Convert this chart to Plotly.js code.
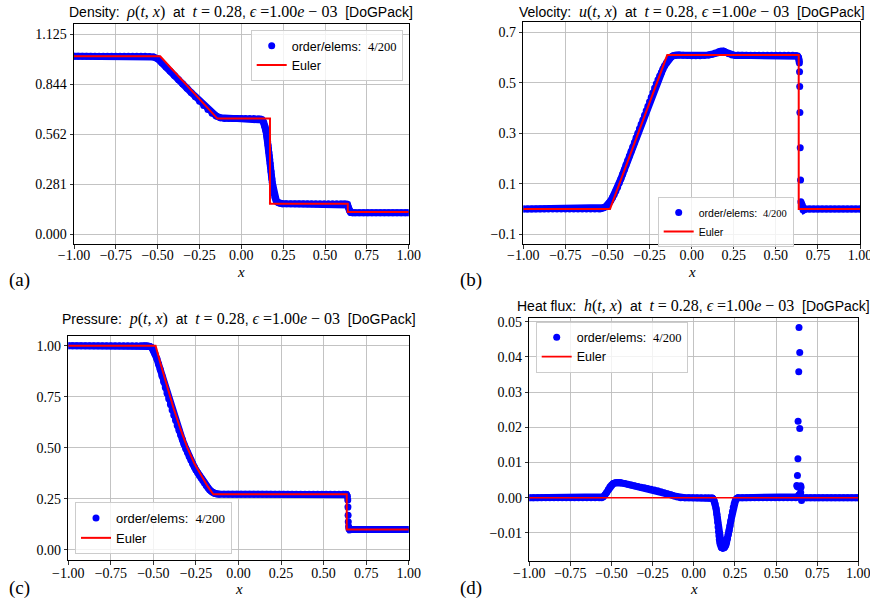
<!DOCTYPE html>
<html>
<head>
<meta charset="utf-8">
<script src="https://cdn.plot.ly/plotly-3.0.1.min.js"></script>
<style>html,body{margin:0;padding:0;background:#fff;}#chart{width:870px;height:613px;}</style>
</head>
<body>
<div id="chart"></div>
<script>
// ---------------- data ----------------
const xTickVals = [-1, -0.75, -0.5, -0.25, 0, 0.25, 0.5, 0.75, 1];
const xTickText = ['−1.00', '−0.75', '−0.50', '−0.25', '0.00', '0.25', '0.50', '0.75', '1.00'];

const densTickVals = [0, 0.281, 0.562, 0.844, 1.125];
const densTickText = ['0.000', '0.281', '0.562', '0.844', '1.125'];
const velTickVals = [-0.1, 0.1, 0.3, 0.5, 0.7];
const velTickText = ['−0.1', '0.1', '0.3', '0.5', '0.7'];
const presTickVals = [0, 0.25, 0.5, 0.75, 1];
const presTickText = ['0.00', '0.25', '0.50', '0.75', '1.00'];
const heatTickVals = [-0.01, 0, 0.01, 0.02, 0.03, 0.04, 0.05];
const heatTickText = ['−0.01', '0.00', '0.01', '0.02', '0.03', '0.04', '0.05'];

// Density (DG solution)
const densX = [-1.000,-0.975,-0.950,-0.925,-0.900,-0.875,-0.850,-0.825,-0.800,-0.775,-0.750,-0.725,-0.700,-0.675,-0.650,-0.625,-0.600,-0.575,-0.550,
  -0.525,-0.500,-0.475,-0.450,-0.425,-0.400,-0.375,-0.350,-0.325,-0.300,-0.275,-0.250,-0.225,-0.200,-0.175,-0.150,-0.125,-0.100,
  -0.075,-0.050,-0.025,0.000,0.025,0.050,0.075,0.100,
  0.115,0.125,0.130,0.135,0.140,0.1425,0.145,0.1475,0.150,0.1525,0.155,0.1575,0.160,0.1625,0.165,0.1675,0.170,0.1725,0.175,0.1775,0.180,0.1825,0.185,0.1875,0.190,0.195,0.200,0.205,0.210,0.220,0.230,0.245,
  0.270,0.295,0.320,0.345,0.370,0.395,0.420,0.445,0.470,0.495,0.520,0.545,0.570,0.595,
  0.615,0.630,0.635,0.640,0.645,0.650,0.655,0.665,
  0.680,0.705,0.730,0.755,0.780,0.805,0.830,0.855,0.880,0.905,0.930,0.955,0.980,1.000];
const densY = [1.0,1.0,1.0,1.0,1.0,1.0,1.0,1.0,1.0,1.0,1.0,1.0,1.0,1.0,1.0,1.0,1.0,1.0,0.999,
  0.996,0.986,0.964,0.940,0.916,0.892,0.868,0.844,0.820,0.796,0.772,0.748,0.724,0.701,0.680,0.664,0.655,0.651,
  0.650,0.650,0.650,0.650,0.650,0.650,0.650,0.649,
  0.647,0.642,0.635,0.625,0.610,0.601,0.590,0.578,0.565,0.550,0.535,0.518,0.500,0.480,0.460,0.440,0.420,0.398,0.375,0.352,0.330,0.310,0.290,0.272,0.255,0.228,0.208,0.195,0.186,0.178,0.174,0.172,
  0.171,0.171,0.171,0.171,0.171,0.171,0.171,0.171,0.171,0.171,0.171,0.171,0.171,0.171,
  0.171,0.170,0.165,0.150,0.135,0.126,0.122,0.121,
  0.121,0.121,0.121,0.121,0.121,0.121,0.121,0.121,0.121,0.121,0.121,0.121,0.121,0.121];
const densDotsX = [];
const densDotsY = [];
// Density (Euler)
const densEulerX = [-1, -0.485, -0.143, 0.171, 0.171, 0.636, 0.636, 1];
const densEulerY = [1.0, 1.0, 0.650, 0.650, 0.172, 0.172, 0.125, 0.125];

// Velocity (DG solution): smooth parts (null = break at the shock) and isolated shock points
const velX = [-1.000,-0.975,-0.950,-0.925,-0.900,-0.875,-0.850,-0.825,-0.800,-0.775,-0.750,-0.725,-0.700,-0.675,-0.650,-0.625,-0.600,-0.575,-0.550,
  -0.54,-0.53,-0.52,-0.51,-0.50,-0.49,-0.48,-0.47,-0.46,-0.45,-0.44,-0.43,-0.42,-0.41,-0.40,-0.39,-0.38,-0.37,-0.36,-0.35,-0.34,-0.33,-0.32,-0.31,-0.30,-0.29,-0.28,-0.27,-0.26,-0.25,-0.24,-0.23,-0.22,-0.21,-0.20,-0.19,-0.18,-0.17,-0.16,-0.15,-0.14,-0.13,-0.12,-0.11,-0.10,-0.09,
  -0.075,-0.050,-0.025,0.000,0.025,0.050,0.075,0.100,0.120,0.140,0.160,0.170,0.180,0.190,0.200,0.220,0.240,0.260,0.275,
  0.300,0.325,0.350,0.375,0.400,0.425,0.450,0.475,0.500,0.525,0.550,0.575,0.600,
  0.620,0.630,0.635,0.638,0.640,null,0.652,0.655,0.658,0.662,0.668,0.675,
  0.700,0.725,0.750,0.775,0.800,0.825,0.850,0.875,0.900,0.925,0.950,0.975,1.000];
const velY = [0,0,0,0,0,0,0,0,0,0,0,0,0,0,0,0,0,0,0,
  0.001,0.003,0.006,0.010,0.016,0.024,0.034,0.046,0.058,0.071,0.086,0.103,0.120,0.138,0.156,0.174,0.192,0.210,0.228,0.246,0.264,0.282,0.300,0.318,0.336,0.353,0.371,0.389,0.407,0.425,0.443,0.461,0.479,0.496,0.512,0.527,0.541,0.555,0.568,0.579,0.589,0.597,0.603,0.607,0.609,0.610,
  0.610,0.609,0.608,0.607,0.607,0.607,0.608,0.610,0.613,0.618,0.623,0.625,0.626,0.625,0.622,0.615,0.610,0.608,0.609,
  0.609,0.609,0.609,0.609,0.609,0.609,0.609,0.609,0.609,0.609,0.609,0.609,0.609,
  0.608,0.605,0.600,0.590,0.578,null,0.022,0.018,0.006,-0.004,-0.003,0.000,
  0,0,0,0,0,0,0,0,0,0,0,0,0];
const velDotsX = [0.641, 0.642, 0.643, 0.645, 0.647, 0.649];
const velDotsY = [0.544, 0.485, 0.382, 0.243, 0.115, 0.029];
// Velocity (Euler)
const velEulerX = [-1, -0.485, -0.145, 0.636, 0.636, 1];
const velEulerY = [0, 0, 0.610, 0.610, 0, 0];

// Pressure (DG solution)
const presX = [-1.000,-0.975,-0.950,-0.925,-0.900,-0.875,-0.850,-0.825,-0.800,-0.775,-0.750,-0.725,-0.700,-0.675,-0.650,-0.625,-0.600,-0.575,
  -0.56,-0.55,-0.54,-0.53,-0.52,-0.51,-0.50,-0.49,-0.48,-0.47,-0.46,-0.45,-0.44,-0.43,-0.42,-0.41,-0.40,-0.39,-0.38,-0.37,-0.36,-0.35,-0.34,-0.33,-0.32,-0.31,-0.30,-0.29,-0.28,-0.27,-0.26,-0.25,-0.24,-0.23,-0.22,-0.21,-0.20,-0.19,-0.18,-0.17,-0.16,-0.15,-0.14,-0.13,-0.12,-0.11,
  -0.085,-0.060,-0.035,-0.010,0.015,0.040,0.065,0.090,0.115,0.140,0.165,0.190,0.215,0.240,0.265,0.290,0.315,0.340,0.365,0.390,0.415,0.440,0.465,0.490,0.515,0.540,0.565,0.590,0.615,
  0.630,0.635,0.640,null,0.647,0.650,0.655,0.665,
  0.680,0.705,0.730,0.755,0.780,0.805,0.830,0.855,0.880,0.905,0.930,0.955,0.980,1.000];
const presY = [1,1,1,1,1,1,1,1,1,1,1,1,1,1,1,1,1,1,
  1.0,1.0,0.9995,0.998,0.996,0.991,0.978,0.960,0.937,0.911,0.883,0.853,0.824,0.795,0.767,0.740,0.712,0.685,0.660,0.635,0.610,0.586,0.563,0.541,0.518,0.496,0.477,0.458,0.440,0.423,0.407,0.392,0.378,0.365,0.352,0.340,0.328,0.316,0.305,0.295,0.287,0.281,0.277,0.275,0.274,0.273,
  0.273,0.273,0.273,0.273,0.273,0.273,0.273,0.273,0.273,0.273,0.273,0.273,0.273,0.273,0.273,0.273,0.273,0.273,0.273,0.273,0.273,0.273,0.273,0.273,0.273,0.273,0.273,0.273,0.273,
  0.273,0.271,0.262,null,0.115,0.102,0.099,0.100,
  0.100,0.100,0.100,0.100,0.100,0.100,0.100,0.100,0.100,0.100,0.100,0.100,0.100,0.100];
const presDotsX = [0.642, 0.643, 0.644, 0.645];
const presDotsY = [0.245, 0.210, 0.170, 0.138];
// Pressure (Euler)
const presEulerX = [-1, -0.487, -0.46, -0.42, -0.38, -0.34, -0.30, -0.26, -0.22, -0.18, -0.148, 0.636, 0.636, 1];
const presEulerY = [1.0, 1.0, 0.918, 0.800, 0.690, 0.590, 0.500, 0.425, 0.365, 0.310, 0.273, 0.273, 0.100, 0.100];

// Heat flux (DG solution)
const heatX = [-1.000,-0.975,-0.950,-0.925,-0.900,-0.875,-0.850,-0.825,-0.800,-0.775,-0.750,-0.725,-0.700,-0.675,-0.650,-0.625,-0.600,-0.575,
  -0.560,-0.550,-0.540,-0.530,-0.520,-0.510,-0.500,-0.490,-0.480,-0.470,-0.460,-0.450,-0.440,-0.420,-0.400,-0.380,-0.360,-0.340,-0.320,-0.300,-0.280,-0.260,-0.240,-0.220,-0.200,-0.180,-0.160,-0.140,-0.120,-0.100,-0.080,
  -0.055,-0.030,-0.005,0.020,0.045,0.070,0.090,0.110,
  0.115,0.120,0.125,0.130,0.135,0.1375,0.140,0.1425,0.145,0.1475,0.150,0.1525,0.155,0.1575,0.160,0.165,0.170,0.175,0.180,0.185,0.190,0.195,0.200,0.205,0.210,0.215,0.220,0.225,0.230,0.235,0.240,0.245,0.250,0.255,0.260,0.265,0.270,
  0.295,0.320,0.345,0.370,0.395,0.420,0.445,0.470,0.495,0.520,0.545,0.570,0.595,0.620,0.630,0.640,0.650,0.660,
  0.685,0.710,0.735,0.760,0.785,0.810,0.835,0.860,0.885,0.910,0.935,0.960,0.985,1.000];
const heatY = [0,0,0,0,0,0,0,0,0,0,0,0,0,0,0,0,0,0,
  0.0000,0.0003,0.0008,0.0015,0.0023,0.0031,0.0036,0.0040,0.0042,0.0043,0.0043,0.0043,0.0042,0.0040,0.0038,0.0036,0.0034,0.0032,0.0030,0.0028,0.0026,0.0024,0.0022,0.0020,0.0017,0.0014,0.0011,0.0008,0.0005,0.0002,0.0000,
  0,0,0,0,0,0,0,0,
  -0.0002,-0.0005,-0.0010,-0.0018,-0.0030,-0.0038,-0.0047,-0.0058,-0.0070,-0.0083,-0.0097,-0.0108,-0.0119,-0.0126,-0.0132,-0.0139,-0.0142,-0.0143,-0.0143,-0.0142,-0.0139,-0.0134,-0.0126,-0.0116,-0.0105,-0.0093,-0.0080,-0.0066,-0.0052,-0.0039,-0.0027,-0.0018,-0.0011,-0.0006,-0.0003,-0.0001,0.0000,
  0,0,0,0,0,0,0,0,0,0,0,0,0,0,0.0003,0.0008,0.0005,0,
  0,0,0,0,0,0,0,0,0,0,0,0,0,0];
const heatDotsX = [0.626,0.629,0.630,0.633,0.634,0.636,0.638,0.6395,0.644,0.644,0.645,0.650,0.650,0.652,0.655];
const heatDotsY = [0.0035,0.0032,0.0063,0.0111,0.0217,0.0030,0.0358,0.0484,0.0413,0.0197,0.0032,0.0015,0.0034,0.0030,-0.0008];
// Heat flux (Euler)
const heatEulerX = [-1, 1];
const heatEulerY = [0, 0];

// ---------------- text ----------------
const SERIF = 'Liberation Serif';
const SANS = 'Liberation Sans';
const NB = '\u00a0';
function m(s) { return '<span style="font-family:' + SERIF + ';font-size:16px">' + s + '</span>'; }
const tail = NB + ' at ' + NB + m('<i>t</i>' + NB + '=' + NB + '0.28') + ', ' + m('<i>ϵ</i> =1.00<i>e</i> − 03') + NB + ' [DoGPack]';
const titleTexts = [
  'Density:' + NB + ' ' + m('<i>ρ</i>(<i>t</i>, <i>x</i>)') + tail,
  'Velocity:' + NB + ' ' + m('<i>u</i>(<i>t</i>, <i>x</i>)') + tail,
  'Pressure:' + NB + ' ' + m('<i>p</i>(<i>t</i>, <i>x</i>)') + tail,
  'Heat flux:' + NB + ' ' + m('<i>h</i>(<i>t</i>, <i>x</i>)') + tail
];
const dgName = 'order/elems:' + NB + ' <span style="font-family:' + SERIF + '">4/200</span>';
const eulerName = 'Euler';
const panelLabels = ['(a)', '(b)', '(c)', '(d)'];

// ---------------- layout geometry (pixels of the 870x613 page) ----------------
const W = 870, H = 613;
const boxes = [ // [left, right, top, bottom]
  [74.0, 408.7, 24.0, 244.3],
  [523.3, 860.0, 22.2, 244.4],
  [68.3, 408.7, 335.5, 560.2],
  [529.3, 858.3, 318.3, 561.0]
];
const yRanges = [[-0.05625, 1.18125], [-0.14, 0.74], [-0.05, 1.05], [-0.018, 0.051]];
const yTicks = [[densTickVals, densTickText], [velTickVals, velTickText], [presTickVals, presTickText], [heatTickVals, heatTickText]];
const titleY = [12, 12, 319, 306];
const labelPos = [[19.5, 279.5], [470.5, 279.5], [19.5, 587.5], [470.5, 587.5]];
const xLabelY = [272, 272, 588.5, 588.5];
const xLabelStandoff = [-6, -6, -4, -4];
const legendPos = [[250.7, 30], [657.7, 197], [75, 502], [535.7, 321.7]];
const legendFont = [12.5, 10.5, 13, 12.5];

const common = {
  showline: true, mirror: true, linecolor: 'black', linewidth: 1,
  ticks: 'outside', ticklen: 3.5, tickwidth: 0.8, tickcolor: 'black',
  showgrid: true, gridcolor: '#bcbcbc', gridwidth: 0.9, zeroline: false,
  tickfont: {family: SERIF, size: 14, color: 'black'}, fixedrange: true,
  ticklabeloverflow: 'allow'
};

const layout = {
  width: W, height: H, margin: {l: 0, r: 0, t: 0, b: 0},
  paper_bgcolor: 'white', plot_bgcolor: 'white', annotations: []
};

const dgX = [densX, velX, presX, heatX];
const dgY = [densY, velY, presY, heatY];
const dotX = [densDotsX, velDotsX, presDotsX, heatDotsX];
const dotY = [densDotsY, velDotsY, presDotsY, heatDotsY];
const euX = [densEulerX, velEulerX, presEulerX, heatEulerX];
const euY = [densEulerY, velEulerY, presEulerY, heatEulerY];
const traces = [];

for (let i = 0; i < 4; i++) {
  const k = i === 0 ? '' : String(i + 1);
  const b = boxes[i];
  layout['xaxis' + k] = Object.assign({}, common, {
    domain: [b[0] / W, b[1] / W], anchor: 'y' + k, range: [-1, 1],
    tickmode: 'array', tickvals: xTickVals, ticktext: xTickText,
    ticklabelstandoff: xLabelStandoff[i]
  });
  layout['yaxis' + k] = Object.assign({}, common, {
    domain: [1 - b[3] / H, 1 - b[2] / H], anchor: 'x' + k, range: yRanges[i],
    tickmode: 'array', tickvals: yTicks[i][0], ticktext: yTicks[i][1]
  });
  const lg = 'legend' + k;
  layout[lg] = {
    x: legendPos[i][0] / W, y: 1 - legendPos[i][1] / H, xanchor: 'left', yanchor: 'top',
    bgcolor: 'rgba(255,255,255,0.8)', bordercolor: '#cccccc', borderwidth: 1,
    font: {family: SANS, size: legendFont[i], color: 'black'}
  };
  // continuous band of the DG solution (thick line under the points)
  traces.push({
    type: 'scatter', mode: 'lines', x: dgX[i], y: dgY[i], xaxis: 'x' + k, yaxis: 'y' + k,
    showlegend: false, hoverinfo: 'skip', connectgaps: false,
    line: {color: '#0000ff', width: 7}
  });
  traces.push({
    type: 'scatter', mode: 'markers', x: dgX[i].concat(dotX[i]), y: dgY[i].concat(dotY[i]),
    xaxis: 'x' + k, yaxis: 'y' + k,
    name: dgName, legend: lg, marker: {color: '#0000ff', size: 7, line: {width: 0}}
  });
  traces.push({
    type: 'scatter', mode: 'lines', x: euX[i], y: euY[i], xaxis: 'x' + k, yaxis: 'y' + k,
    name: eulerName, legend: lg, line: {color: '#ff0000', width: i === 3 ? 1.6 : 2}
  });
  layout.annotations.push({
    xref: 'paper', yref: 'paper', x: (b[0] + b[1]) / 2 / W, y: 1 - titleY[i] / H,
    xanchor: 'center', yanchor: 'middle', showarrow: false, text: titleTexts[i],
    font: {family: SANS, size: 14, color: 'black'}
  });
  layout.annotations.push({
    xref: 'paper', yref: 'paper', x: labelPos[i][0] / W, y: 1 - labelPos[i][1] / H,
    xanchor: 'center', yanchor: 'middle', showarrow: false, text: panelLabels[i],
    font: {family: SERIF, size: 19, color: 'black'}
  });
  layout.annotations.push({
    xref: 'paper', yref: 'paper', x: (b[0] + b[1]) / 2 / W, y: 1 - xLabelY[i] / H,
    xanchor: 'center', yanchor: 'middle', showarrow: false, text: '<i>x</i>',
    font: {family: SERIF, size: 15, color: 'black'}
  });
}

Plotly.newPlot('chart', traces, layout, {displayModeBar: false, staticPlot: true});
</script>
</body>
</html>
